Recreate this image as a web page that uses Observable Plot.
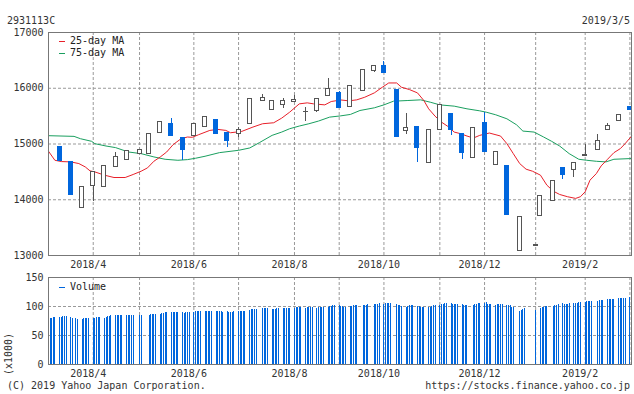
<!DOCTYPE html>
<html><head><meta charset="utf-8">
<script src="https://cdn.jsdelivr.net/npm/d3@7"></script>
<script src="https://cdn.jsdelivr.net/npm/@observablehq/plot@0.6"></script>
<style>
html,body{margin:0;padding:0;background:#fff}
#wrap{position:relative;width:634px;height:394px;font-family:"DejaVu Sans Mono",monospace;font-size:10px;color:#333;overflow:hidden;background:#fff}
.t{position:absolute;line-height:12px;white-space:nowrap}
.sw{position:absolute;height:1px;width:6px}
</style></head><body>
<div id="wrap">
  <div id="main" style="position:absolute;left:0;top:0"></div>
  <div id="vol" style="position:absolute;left:0;top:260px"></div>
  <div class="t" style="left:7px;top:15px">2931113C</div>
  <div class="t" style="right:4px;top:15px">2019/3/5</div>
  <div class="sw" style="left:59px;top:41px;background:#e8202a"></div>
  <div class="t" style="left:70px;top:35px;color:#222">25-day MA</div>
  <div class="sw" style="left:59px;top:53px;background:#1a9f5f"></div>
  <div class="t" style="left:70px;top:47px;color:#222">75-day MA</div>
  <div class="sw" style="left:59px;top:287px;background:#0066dd"></div>
  <div class="t" style="left:70px;top:281px;color:#222">Volume</div>
  <div class="t" style="left:-12px;top:348px;transform:rotate(-90deg);width:42px;text-align:center">(x1000)</div>
  <div class="t" style="left:7px;top:380px">(C) 2019 Yahoo Japan Corporation.</div>
  <div class="t" style="right:4px;top:380px">https://stocks.finance.yahoo.co.jp</div>
</div>
<script>
// Weekly candles (first trading day of each week)
const candleDates = ["2018-03-12","2018-03-19","2018-03-26","2018-04-02","2018-04-09","2018-04-16","2018-04-23","2018-05-01","2018-05-07","2018-05-14","2018-05-21","2018-05-28","2018-06-04","2018-06-11","2018-06-18","2018-06-25","2018-07-02","2018-07-09","2018-07-17","2018-07-23","2018-07-30","2018-08-06","2018-08-13","2018-08-20","2018-08-27","2018-09-03","2018-09-10","2018-09-18","2018-09-25","2018-10-01","2018-10-09","2018-10-15","2018-10-22","2018-10-29","2018-11-05","2018-11-12","2018-11-19","2018-11-26","2018-12-03","2018-12-10","2018-12-17","2018-12-25","2019-01-04","2019-01-07","2019-01-15","2019-01-21","2019-01-28","2019-02-04","2019-02-12","2019-02-18","2019-02-25","2019-03-04"];
const opens  = [14952,14679,13857,14250,14232,14589,14714,14816,14816,15197,15357,15113,15143,15298,15435,15202,15185,15357,15768,15607,15708,15750,15570,15583,15857,15911,15655,15946,16316,16399,15970,15232,15310,14655,15244,15542,15185,14744,15381,14619,14613,13084,13178,13714,13976,14572,14536,14780,14893,15250,15411,15667];
const highs  = [14960,14685,14232,14500,14607,14845,14875,14893,15179,15393,15458,15113,15357,15500,15435,15202,15290,15804,15893,15768,15821,15863,15655,15804,16167,15940,16036,16321,16393,16476,15970,15542,15310,15250,15696,15542,15185,15304,15571,14857,14613,13697,13182,14072,14339,14572,14661,15000,15167,15363,15518,15667];
const lows   = [14685,14080,13850,13965,14232,14589,14714,14816,14816,15197,15137,14708,15143,15298,15173,14945,15110,15357,15768,15607,15643,15750,15405,15570,15857,15637,15655,15946,16280,16280,15119,15167,14667,14655,15244,15155,14726,14744,14863,14619,13720,13084,13178,13714,13976,14369,14393,14780,14893,15250,15411,15601];
const closes = [14691,14084,14232,14500,14607,14768,14875,14893,15179,15393,15137,14887,15357,15482,15173,15048,15250,15804,15821,15768,15768,15792,15580,15804,15982,15637,16036,16321,16393,16280,15119,15292,14923,15250,15696,15244,14845,15292,14863,14857,13720,13697,13182,14072,14339,14441,14661,14800,15054,15322,15518,15601];

const ma25 = [["2018-03-05",14870],["2018-03-09",14708],["2018-03-13",14685],["2018-03-19",14679],["2018-03-24",14649],["2018-03-28",14589],["2018-03-31",14518],["2018-04-03",14500],["2018-04-09",14441],["2018-04-15",14399],["2018-04-22",14399],["2018-04-27",14453],["2018-05-02",14512],["2018-05-06",14572],["2018-05-10",14691],["2018-05-14",14768],["2018-05-18",14857],["2018-05-22",14988],["2018-05-27",15095],["2018-05-31",15125],["2018-06-03",15120],["2018-06-07",15167],["2018-06-14",15244],["2018-06-19",15262],["2018-06-24",15244],["2018-06-27",15202],["2018-07-04",15226],["2018-07-11",15304],["2018-07-17",15363],["2018-07-24",15381],["2018-07-29",15464],["2018-08-03",15571],["2018-08-09",15720],["2018-08-14",15738],["2018-08-18",15720],["2018-08-25",15702],["2018-08-29",15762],["2018-09-04",15790],["2018-09-09",15774],["2018-09-14",15792],["2018-09-19",15839],["2018-09-25",15917],["2018-09-30",16018],["2018-10-04",16095],["2018-10-09",16095],["2018-10-12",16018],["2018-10-17",15976],["2018-10-22",15917],["2018-10-26",15780],["2018-10-29",15631],["2018-11-02",15500],["2018-11-06",15393],["2018-11-10",15316],["2018-11-14",15214],["2018-11-18",15185],["2018-11-22",15143],["2018-11-26",15107],["2018-11-30",15155],["2018-12-06",15197],["2018-12-13",15143],["2018-12-17",15006],["2018-12-21",14827],["2018-12-25",14649],["2018-12-29",14548],["2019-01-02",14512],["2019-01-07",14441],["2019-01-11",14262],["2019-01-15",14155],["2019-01-19",14095],["2019-01-24",14054],["2019-01-29",14024],["2019-02-01",14054],["2019-02-04",14143],["2019-02-07",14351],["2019-02-11",14470],["2019-02-14",14607],["2019-02-18",14726],["2019-02-22",14845],["2019-02-26",14917],["2019-03-01",15006],["2019-03-04",15107],["2019-03-05",15140]];
const ma75 = [["2018-03-05",15149],["2018-03-21",15137],["2018-03-25",15095],["2018-04-01",15048],["2018-04-03",15006],["2018-04-10",14964],["2018-04-16",14935],["2018-04-24",14857],["2018-05-02",14827],["2018-05-10",14768],["2018-05-17",14726],["2018-05-25",14708],["2018-05-31",14720],["2018-06-05",14744],["2018-06-11",14780],["2018-06-20",14845],["2018-07-02",14887],["2018-07-09",14929],["2018-07-15",15024],["2018-07-23",15155],["2018-07-29",15214],["2018-08-03",15274],["2018-08-09",15322],["2018-08-15",15363],["2018-08-21",15411],["2018-08-28",15482],["2018-09-04",15505],["2018-09-10",15530],["2018-09-16",15601],["2018-09-25",15649],["2018-10-01",15702],["2018-10-07",15768],["2018-10-16",15780],["2018-10-24",15792],["2018-10-30",15750],["2018-11-05",15702],["2018-11-14",15679],["2018-11-22",15631],["2018-11-30",15595],["2018-12-04",15571],["2018-12-10",15524],["2018-12-17",15452],["2018-12-23",15345],["2018-12-27",15232],["2019-01-03",15214],["2019-01-09",15125],["2019-01-14",15048],["2019-01-19",14964],["2019-01-25",14827],["2019-01-31",14726],["2019-02-05",14708],["2019-02-11",14690],["2019-02-17",14679],["2019-02-22",14726],["2019-03-04",14738],["2019-03-05",14740]];

const holidays = ["2018-03-21","2018-04-30","2018-05-03","2018-05-04","2018-07-16","2018-09-17","2018-09-24","2018-10-08","2018-11-23","2018-12-24","2018-12-31","2019-01-01","2019-01-02","2019-01-03","2019-01-14","2019-02-11"];
const volumeByWeek = [
 [80,80,80,81,81],[81,81,82,82,82],[81,80,79,78],[77,79,79,80,80],[80,80,81,81,81],
 [80,81,82,83,84],[84,84,85,85,84],[85,85,85,85,85],[85,85],[85,86,86,87,87],
 [87,88,88,89,90],[90,90,90,89,90],[89,88,89,89,89],[90,91,91,92,92],[91,92,92,92,92],
 [92,92,92,91,90],[91,90,90,90,91],[92,92,92,92,92],[93,94,94,95,95],[96,96,96,96],
 [95,95,95,96,97],[97,97,97,97,97],[97,98,99,99,98],[97,98,98,98,99],[97,98,99,99,99],
 [99,100,100,101,101],[101,100,100,99,99],[100,100,101,101,101],[101,102,102,103],[103,103,104,105],
 [104,105,105,105,105],[103,102,101,100],[99,100,101,101,101],[100,100,99,98,98],[98,99,100,101,101],
 [102,103,104,105,105],[105,104,104,103,103],[103,102,102,101],[102,103,104,105,106],[106,107,104,104,104],
 [102,103,104,104,104],[102,101,101,99,98],[92,93,95,97],[93],[96,98,99,100,100],
 [100,101,102,104],[105,104,104,104,105],[106,106,106,107,107],[107,108,108,108,109],[109,110,111,111],
 [112,112,112,112,112],[113,114,114,114,114],[116,116]
];

const priceTicks = [13000,14000,15000,16000,17000];
const volTicks = [0,50,100,150];
const gridDates = ["2018-04-02","2018-05-01","2018-06-04","2018-07-02","2018-08-06","2018-09-03","2018-10-01","2018-11-05","2018-12-03","2019-01-04","2019-02-04","2019-03-04"];
const labelDates = ["2018-04-02","2018-06-04","2018-08-06","2018-10-01","2018-12-03","2019-02-04"];
const labelTexts = ["2018/4","2018/6","2018/8","2018/10","2018/12","2019/2"];

const blue = "#0066dd", gray = "#555", red = "#e8202a", green = "#1a9f5f";
const P = s => new Date(s);
const candles = candleDates.map((s, i) => ({date: P(s), open: opens[i], high: highs[i], low: lows[i], close: closes[i]}));
const up = d => d.close >= d.open;
const ma25Data = ma25.map(([s, v]) => ({date: P(s), v}));
const ma75Data = ma75.map(([s, v]) => ({date: P(s), v}));

const hol = new Set(holidays);
const days = [];
for (let t = Date.UTC(2018, 2, 5); t <= Date.UTC(2019, 2, 5); t += 864e5) {
  const d = new Date(t), wd = d.getUTCDay(), s = d.toISOString().slice(0, 10);
  if (wd > 0 && wd < 6 && !hol.has(s)) days.push(d);
}
const vols = volumeByWeek.flat();
const volData = days.map((d, i) => ({date: d, v: vols[i]})).filter(d => d.v != null);

const gridD = gridDates.map(P);
const labD = labelDates.map(P);
const labMap = new Map(labD.map((d, i) => [+d, labelTexts[i]]));
const xDomain = [P("2018-03-05"), P("2019-03-05")];
const style = {fontFamily: '"DejaVu Sans Mono", monospace', fontSize: "10px", color: "#333", background: "transparent", overflow: "visible"};
const gridOpt = {stroke: "#999", strokeOpacity: 1, strokeDasharray: "3,2"};
const xAxis = () => Plot.axisX(labD, {tickSize: 0, tickPadding: 5, dx: -5, tickFormat: d => labMap.get(+d), label: null, fill: "#333"});
const yAxis = t => Plot.axisY(t, {tickSize: 0, tickPadding: 5, label: null, fill: "#333", tickFormat: d => String(d)});

const main = Plot.plot({
  width: 634, height: 272, marginLeft: 48, marginRight: 3, marginTop: 32, marginBottom: 17,
  style,
  x: {type: "utc", domain: xDomain, label: null},
  y: {domain: [13000, 17000], label: null},
  marks: [
    Plot.gridY(priceTicks.slice(1, -1), gridOpt),
    Plot.gridX(gridD, gridOpt),
    Plot.line(ma75Data, {x: "date", y: "v", stroke: green, strokeWidth: 1}),
    Plot.line(ma25Data, {x: "date", y: "v", stroke: red, strokeWidth: 1}),
    Plot.ruleX(candles, {x: "date", y1: "low", y2: "high", stroke: d => up(d) ? gray : blue, shapeRendering: "crispEdges"}),
    Plot.rect(candles, {x1: "date", x2: "date", y1: "open", y2: "close", insetLeft: -2, insetRight: -2,
      fill: d => up(d) ? "white" : blue, stroke: d => up(d) ? gray : blue, shapeRendering: "crispEdges"}),
    Plot.frame({stroke: "#777"}),
    yAxis(priceTicks),
    xAxis()
  ]
});
document.getElementById("main").appendChild(main);

const vol = Plot.plot({
  width: 634, height: 120, marginLeft: 48, marginRight: 3, marginTop: 17, marginBottom: 16,
  style,
  x: {type: "utc", domain: xDomain, label: null},
  y: {domain: [0, 150], label: null},
  marks: [
    Plot.gridY([50, 100], gridOpt),
    Plot.gridX(gridD, gridOpt),
    Plot.ruleX(volData, {x: "date", y1: 0, y2: "v", stroke: blue, strokeWidth: 1, shapeRendering: "crispEdges"}),
    Plot.frame({stroke: "#777"}),
    yAxis(volTicks),
    xAxis()
  ]
});
document.getElementById("vol").appendChild(vol);
</script>
</body></html>
